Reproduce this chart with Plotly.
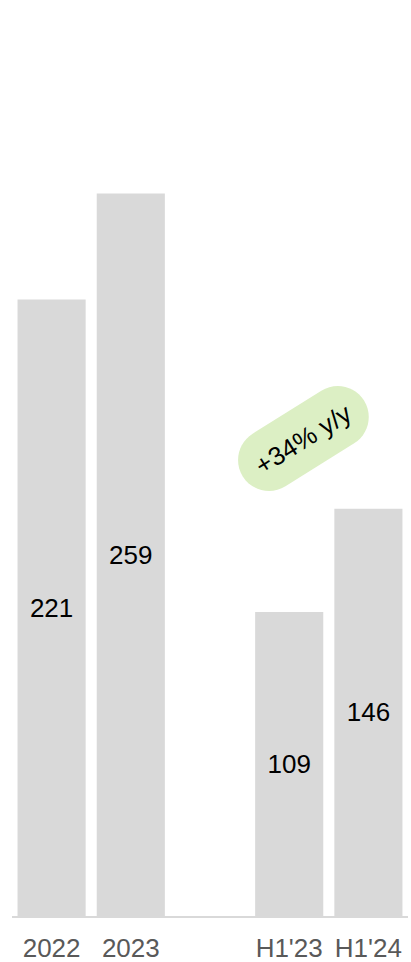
import math
import plotly.graph_objects as go

# Annual and half-year totals
annual_labels = ["2022", "2023"]
annual_values = [221, 259]
half_labels = ["H1'23", "H1'24"]
half_values = [109, 146]
growth_label = "+34% y/y"

BAR_COLOR = "#d9d9d9"
TICK_COLOR = "#595959"
PILL_COLOR = "#dcefc4"
FONT = "Arial, Liberation Sans, sans-serif"

W, H = 411, 962
M_L, M_R, M_T, M_B = 12, 3, 16, 46
PW, PH = W - M_L - M_R, H - M_T - M_B

# one empty slot separates the annual group from the half-year group
labels = annual_labels + half_labels
values = annual_values + half_values
positions = list(range(len(annual_labels))) + [
    len(annual_labels) + 1 + i for i in range(len(half_labels))
]
n_slots = len(annual_labels) + 1 + len(half_labels)

px_per_unit = 2.79
y_max = PH / px_per_unit

fig = go.Figure()
fig.add_trace(go.Bar(
    x=positions,
    y=values,
    text=[str(v) for v in values],
    textposition="inside",
    insidetextanchor="middle",
    textangle=0,
    constraintext="none",
    textfont=dict(family=FONT, size=26, color="#000000"),
    marker=dict(color=BAR_COLOR, line=dict(width=0)),
    hoverinfo="skip",
))

# pixel-unit overlay used for the growth pill
fig.add_trace(go.Scatter(x=[], y=[], xaxis="x2", yaxis="y2", hoverinfo="skip",
                         showlegend=False))


def stadium_path(cx, cy, length, radius, angle_deg):
    t = math.radians(angle_deg)
    ux, uy = math.cos(t), math.sin(t)
    nx, ny = -uy, ux
    k = 0.5523 * radius
    h = length / 2
    c1 = (cx - h * ux, cy - h * uy)
    c2 = (cx + h * ux, cy + h * uy)

    def pt(c, a, b, ra, rb):
        return (c[0] + ra * a[0] + rb * b[0], c[1] + ra * a[1] + rb * b[1])

    u = (ux, uy)
    n = (nx, ny)
    mu = (-ux, -uy)
    mn = (-nx, -ny)

    def arc(c, a, b):
        p0 = pt(c, a, b, radius, 0)
        p1 = pt(c, a, b, 0, radius)
        q0 = (p0[0] + k * b[0], p0[1] + k * b[1])
        q1 = (p1[0] + k * a[0], p1[1] + k * a[1])
        return f"C{q0[0]:.2f},{q0[1]:.2f} {q1[0]:.2f},{q1[1]:.2f} {p1[0]:.2f},{p1[1]:.2f}"

    s = pt(c1, n, u, radius, 0)
    e = pt(c2, n, u, radius, 0)
    path = f"M{s[0]:.2f},{s[1]:.2f} L{e[0]:.2f},{e[1]:.2f} "
    path += arc(c2, n, u) + " " + arc(c2, u, mn) + " "
    b = pt(c1, mn, u, radius, 0)
    path += f"L{b[0]:.2f},{b[1]:.2f} "
    path += arc(c1, mn, mu) + " " + arc(c1, mu, n) + " Z"
    return path


pill_cx, pill_cy = 291.4, 477.5
pill_angle = 32
fig.add_shape(
    type="path",
    path=stadium_path(pill_cx, pill_cy, 81, 31, pill_angle),
    xref="x2", yref="y2",
    fillcolor=PILL_COLOR,
    line=dict(width=0),
    layer="above",
)
fig.add_annotation(
    x=pill_cx, y=pill_cy, xref="x2", yref="y2",
    text=growth_label, showarrow=False, textangle=-pill_angle,
    font=dict(family=FONT, size=26, color="#000000"),
)

fig.update_layout(
    width=W, height=H,
    margin=dict(l=M_L, r=M_R, t=M_T, b=M_B, autoexpand=False),
    paper_bgcolor="white", plot_bgcolor="white",
    showlegend=False,
    bargap=0.14,
    xaxis=dict(
        range=[-0.5, n_slots - 0.5],
        automargin=False,
        tickmode="array", tickvals=positions, ticktext=labels,
        tickfont=dict(family=FONT, size=26, color=TICK_COLOR),
        showgrid=False, zeroline=False,
        showline=True, linecolor=BAR_COLOR, linewidth=2,
        ticks="outside", ticklen=8, tickcolor="rgba(0,0,0,0)",
    ),
    yaxis=dict(range=[0, y_max], visible=False, showgrid=False, zeroline=False),
    xaxis2=dict(range=[0, PW], overlaying="x", visible=False),
    yaxis2=dict(range=[0, PH], overlaying="y", visible=False),
)

fig.write_html("out.html")
